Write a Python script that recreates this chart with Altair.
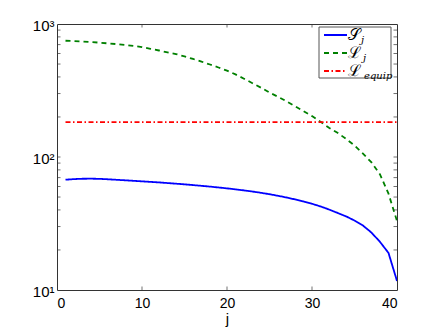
import altair as alt
import pandas as pd

# ---- data ----
j = list(range(1, 41))
S_j = [67.5, 68.2, 68.6, 68.7, 68.5, 68.0, 67.4, 66.8, 66.2, 65.6,
       65.0, 64.4, 63.7, 63.0, 62.3, 61.5, 60.7, 59.9, 59.0, 58.1,
       57.1, 56.1, 55.0, 53.8, 52.5, 51.1, 49.6, 48.0, 46.3, 44.5,
       42.5, 40.3, 38.0, 35.8, 33.3, 30.5, 27.0, 23.0, 19.0, 11.7]
L_j = [748, 745, 739, 732, 724, 715, 706, 696, 684, 671,
       650, 632, 612, 594, 571, 546, 521, 496, 471, 446,
       418, 388, 359, 332, 305, 284, 262, 241, 221, 203,
       184, 166, 152, 137, 122, 106, 91, 74, 53, 33]
j_equip = [1, 40]
L_equip = [183, 183]

series = ["S", "L", "E"]
colors = ["#0000ff", "#008000", "#ff0000"]
dashes = [[1, 0], [5, 4], [5, 2.5, 1.5, 2.5]]

x_ticks = [0, 10, 20, 30, 40]
y_major = [10, 100, 1000]
y_minor = [20, 30, 40, 50, 60, 70, 80, 90, 200, 300, 400, 500, 600, 700, 800, 900]

df = pd.concat([
    pd.DataFrame({"j": j, "v": S_j, "s": "S"}),
    pd.DataFrame({"j": j, "v": L_j, "s": "L"}),
    pd.DataFrame({"j": j_equip, "v": L_equip, "s": "E"}),
])

W, H = 340, 266
FONT = "Liberation Sans"
AX = "#333333"

xscale = alt.Scale(domain=[0, 40], nice=False)
yscale = alt.Scale(type="log", domain=[10, 1000], nice=False)

lines = alt.Chart(df).mark_line(strokeWidth=1.8, clip=True).encode(
    x=alt.X("j:Q", scale=xscale, axis=alt.Axis(
        values=x_ticks, tickSize=0, domain=False, grid=False,
        labelFont=FONT, labelFontSize=14, labelColor="black", labelPadding=6,
        title="j", titleFont=FONT, titleFontSize=15, titleFontWeight="normal",
        titleColor="black", titlePadding=1)),
    y=alt.Y("v:Q", scale=yscale, axis=alt.Axis(
        values=y_major, tickSize=0, domain=False, grid=False,
        labelExpr="'10' + (datum.value == 10 ? '¹' : datum.value == 100 ? '²' : '³')",
        labelFont=FONT, labelFontSize=15, labelColor="black", labelPadding=3,
        labelOffset=1, title=None)),
    color=alt.Color("s:N", scale=alt.Scale(domain=series, range=colors), legend=None),
    strokeDash=alt.StrokeDash("s:N", scale=alt.Scale(domain=series, range=dashes), legend=None),
    detail="s:N",
)

ydf = pd.DataFrame({"v": y_minor + [100]})
xdf = pd.DataFrame({"j": x_ticks[1:-1]})
tick_l = alt.Chart(ydf).mark_rule(color=AX, strokeWidth=0.7).encode(
    y="v:Q", x=alt.value(0), x2=alt.value(3.5))
tick_r = alt.Chart(ydf).mark_rule(color=AX, strokeWidth=0.7).encode(
    y="v:Q", x=alt.value(W - 3.5), x2=alt.value(W))
tick_b = alt.Chart(xdf).mark_rule(color=AX, strokeWidth=0.7).encode(
    x="j:Q", y=alt.value(H - 3.5), y2=alt.value(H))
tick_t = alt.Chart(xdf).mark_rule(color=AX, strokeWidth=0.7).encode(
    x="j:Q", y=alt.value(0), y2=alt.value(3.5))

# ---- legend (drawn by hand, matlab style) ----
leg_box = alt.Chart(pd.DataFrame({"a": [0]})).mark_rect(
    fill="white", stroke="#555555", strokeWidth=1).encode(
    x=alt.value(262), x2=alt.value(334), y=alt.value(3), y2=alt.value(54))
leg_rows = [11, 29, 47]
leg_lines = [
    alt.Chart(pd.DataFrame({"a": [0]})).mark_rule(
        color=colors[i], strokeWidth=1.8, strokeDash=dashes[i]).encode(
        x=alt.value(267), x2=alt.value(290), y=alt.value(leg_rows[i]))
    for i in range(3)
]
main_txt = ["𝒮", "ℒ", "ℒ"]
sub_txt = ["j", "j", "equip"]
sub_x = [304, 306, 307]
leg_main = [
    alt.Chart(pd.DataFrame({"a": [0]})).mark_text(
        text=main_txt[i], font="DejaVu Serif", fontSize=16,
        align="left", baseline="middle", color="black").encode(
        x=alt.value(291), y=alt.value(leg_rows[i]))
    for i in range(3)
]
leg_sub = [
    alt.Chart(pd.DataFrame({"a": [0]})).mark_text(
        text=sub_txt[i], font="DejaVu Serif", fontSize=10, fontStyle="italic",
        align="left", baseline="middle", color="black").encode(
        x=alt.value(sub_x[i]), y=alt.value(leg_rows[i] + 5))
    for i in range(3)
]

chart = alt.layer(
    lines, tick_l, tick_r, tick_b, tick_t, leg_box, *leg_lines, *leg_main, *leg_sub
).properties(
    width=W, height=H,
    autosize=alt.AutoSizeParams(type="none"),
    padding={"left": 49, "top": 16, "right": 31, "bottom": 38},
    background="white",
).configure_view(stroke=AX, strokeWidth=1)

chart.save("out.html", embed_options={"renderer": "svg", "actions": False})
